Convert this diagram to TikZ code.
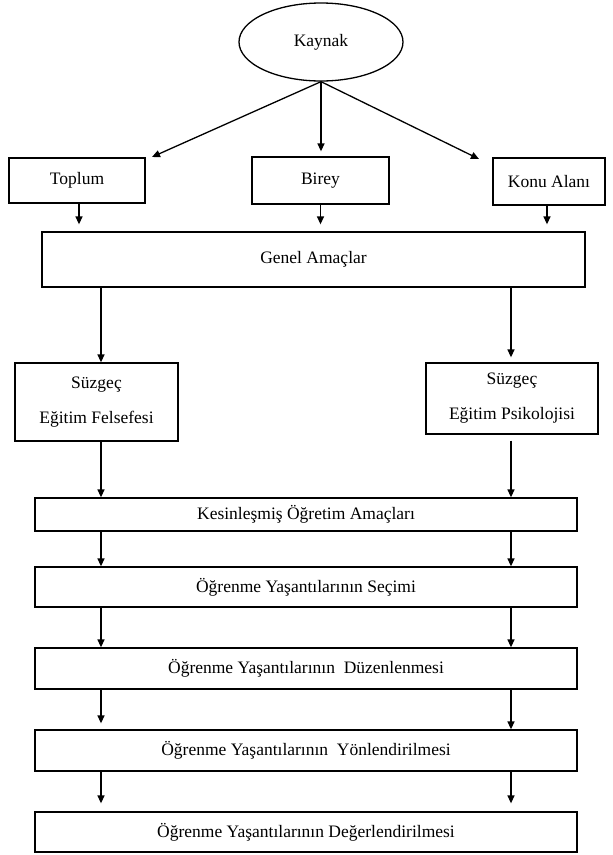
\documentclass[tikz,border=0pt]{standalone}
\usepackage{fontspec}
\setmainfont{Liberation Serif}
\usetikzlibrary{arrows.meta,shapes.geometric}
\begin{document}
\begin{tikzpicture}[x=1pt,y=-1pt,
  box/.style={draw, line width=1.3pt, rectangle, inner sep=0pt, align=center,
    font=\fontsize{17.5}{35}\selectfont},
  arr/.style={-{Triangle[length=8pt,width=7pt]}, line width=1.3pt}]
\useasboundingbox (0,0) rectangle (613,855);
\node[draw, line width=1.3pt, ellipse, minimum width=164pt, minimum height=78pt, inner sep=0pt,
  font=\fontsize{17.5}{20}\selectfont] (kaynak) at (321,42) {\raisebox{4pt}{Kaynak}};
\node[box, minimum width=136pt, minimum height=45pt] (toplum) at (77,180.5) {Toplum};
\node[box, minimum width=137pt, minimum height=47pt] (birey) at (320.5,180.5) {Birey};
\node[box, minimum width=112pt, minimum height=47pt] (konu) at (549,181.5) {Konu Alanı};
\node[box, minimum width=543pt, minimum height=55pt] (genel) at (313.5,259.5) {Genel Amaçlar};
\node[box, minimum width=163pt, minimum height=78pt] (sl) at (96.5,402) {Süzgeç\\Eğitim Felsefesi};
\node[box, minimum width=172pt, minimum height=71pt] (sr) at (512,398.5) {Süzgeç\\Eğitim Psikolojisi};
\node[box, minimum width=542pt, minimum height=33pt] (kes) at (306,514.5) {Kesinleşmiş Öğretim Amaçları};
\node[box, minimum width=542pt, minimum height=40pt] (sec) at (306,587) {Öğrenme Yaşantılarının Seçimi};
\node[box, minimum width=542pt, minimum height=41pt] (duz) at (306,668.5) {Öğrenme Yaşantılarının~ Düzenlenmesi};
\node[box, minimum width=542pt, minimum height=41pt] (yon) at (306,750.5) {Öğrenme Yaşantılarının~ Yönlendirilmesi};
\node[box, minimum width=542pt, minimum height=40pt] (deg) at (306,832) {Öğrenme Yaşantılarının Değerlendirilmesi};
% tips of the arrows from Kaynak
\coordinate (t1) at (152,157);
\coordinate (t3) at (479,159);
\coordinate (xl) at (101,0);
\coordinate (xr) at (511,0);
\draw[arr] (kaynak.south) -- (t1);
\draw[arr, shorten >=5pt] (kaynak.south) -- (kaynak.south |- birey.north);
\draw[arr] (kaynak.south) -- (t3);
\draw[arr, shorten >=7pt] (toplum.south -| 79,0) -- (genel.north -| 79,0);
\draw[arr, shorten >=7pt] (birey.south) -- (birey.south |- genel.north);
\draw[arr, shorten >=7pt] (konu.south -| 547,0) -- (genel.north -| 547,0);
\draw[arr] (genel.south -| xl) -- (sl.north -| xl);
\draw[arr, shorten >=5pt] (genel.south -| xr) -- (sr.north -| xr);
\draw[arr] (sl.south -| xl) -- (kes.north -| xl);
\draw[arr, shorten <=6pt] (sr.south -| xr) -- (kes.north -| xr);
\draw[arr] (kes.south -| xl) -- (sec.north -| xl);
\draw[arr] (kes.south -| xr) -- (sec.north -| xr);
\draw[arr] (sec.south -| xl) -- (duz.north -| xl);
\draw[arr] (sec.south -| xr) -- (duz.north -| xr);
\draw[arr, shorten >=6pt] (duz.south -| xl) -- (yon.north -| xl);
\draw[arr] (duz.south -| xr) -- (yon.north -| xr);
\draw[arr, shorten >=8pt] (yon.south -| xl) -- (deg.north -| xl);
\draw[arr, shorten >=8pt] (yon.south -| xr) -- (deg.north -| xr);
\end{tikzpicture}
\end{document}
